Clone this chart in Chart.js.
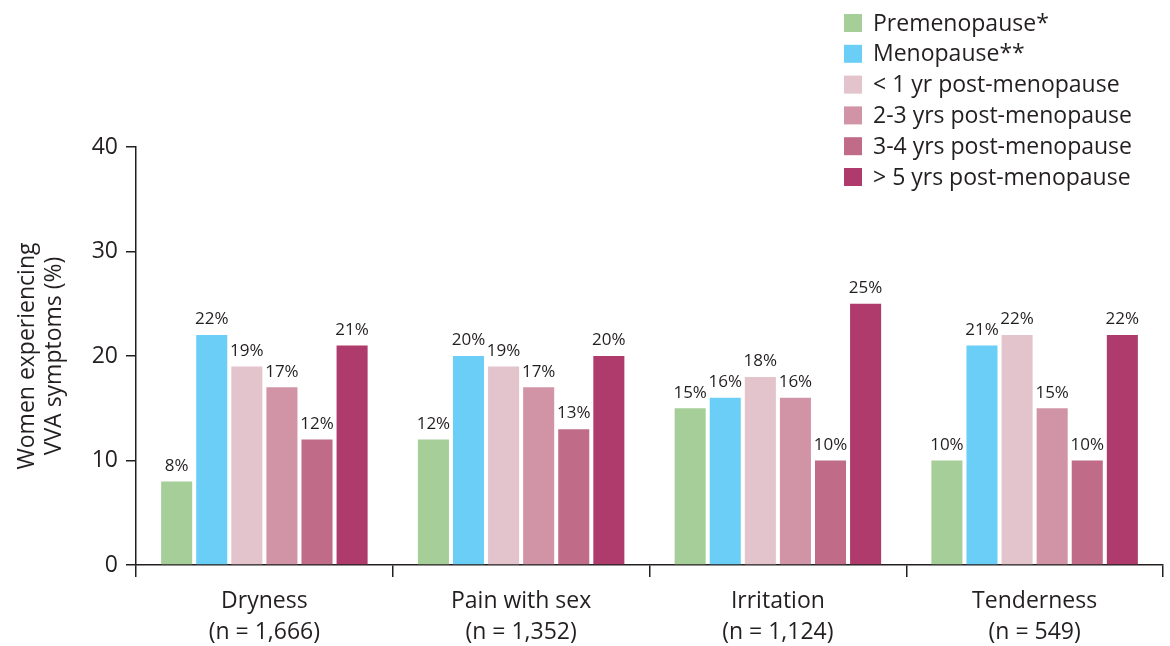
<!DOCTYPE html>
<html>
<head>
<meta charset="utf-8">
<script src="https://cdn.jsdelivr.net/npm/chart.js@4.4.1/dist/chart.umd.min.js"></script>
<style>
  html, body { margin: 0; padding: 0; background: #fff; }
  #wrap { width: 1170px; height: 646px; position: relative; }
</style>
</head>
<body>
<div id="wrap"><canvas id="vvaChart" width="1170" height="646"></canvas></div>
<script>
// VVA symptoms by menopausal stage

const categories = [
  ['Dryness', '(n = 1,666)'],
  ['Pain with sex', '(n = 1,352)'],
  ['Irritation', '(n = 1,124)'],
  ['Tenderness', '(n = 549)']
];

const stageLabels = [
  'Premenopause*',
  'Menopause**',
  '< 1 yr post-menopause',
  '2-3 yrs post-menopause',
  '3-4 yrs post-menopause',
  '> 5 yrs post-menopause'
];

const premenopause = [8, 12, 15, 10];
const menopause = [22, 20, 16, 21];
const postUnder1 = [19, 19, 18, 22];
const post2to3 = [17, 17, 16, 15];
const post3to4 = [12, 13, 10, 10];
const postOver5 = [21, 20, 25, 22];

const stageValues = [premenopause, menopause, postUnder1, post2to3, post3to4, postOver5];
const stageColors = ['#a5ce98', '#6acef6', '#e3c4cc', '#d094a6', '#c06c88', '#ae3b6b'];

const yTicks = [0, 10, 20, 30, 40];

const FONT = '"Open Sans", sans-serif';
const INK = '#231f20';

// value labels above each bar
const barLabels = {
  id: 'barLabels',
  afterDatasetsDraw(chart) {
    const ctx = chart.ctx;
    ctx.save();
    ctx.font = '17px ' + FONT;
    ctx.fillStyle = INK;
    ctx.textAlign = 'center';
    ctx.textBaseline = 'bottom';
    chart.data.datasets.forEach((ds, i) => {
      chart.getDatasetMeta(i).data.forEach((bar, j) => {
        ctx.fillText(ds.data[j] + '%', bar.x, bar.y - 7);
      });
    });
    ctx.restore();
  }
};

// stacked legend in the top right corner
const cornerLegend = {
  id: 'cornerLegend',
  afterDraw(chart) {
    const ctx = chart.ctx;
    ctx.save();
    ctx.font = '23px ' + FONT;
    ctx.textBaseline = 'middle';
    ctx.textAlign = 'left';
    chart.data.datasets.forEach((ds, i) => {
      const y = 23 + i * 30.8;
      ctx.fillStyle = ds.backgroundColor;
      ctx.fillRect(844, y - 9, 18, 18);
      ctx.fillStyle = INK;
      ctx.fillText(ds.label, 873, y + 1);
    });
    ctx.restore();
  }
};

new Chart(document.getElementById('vvaChart'), {
  type: 'bar',
  data: {
    labels: categories,
    datasets: stageLabels.map((label, i) => ({
      label: label,
      data: stageValues[i],
      backgroundColor: stageColors[i],
      categoryPercentage: 0.82,
      barPercentage: 0.885
    }))
  },
  options: {
    responsive: false,
    animation: false,
    layout: { padding: { top: 147, right: 7, left: 14, bottom: 0 } },
    plugins: {
      legend: { display: false },
      tooltip: { enabled: false }
    },
    scales: {
      x: {
        offset: true,
        grid: {
          offset: true,
          drawOnChartArea: false,
          tickLength: 12,
          color: INK,
          lineWidth: 1.5
        },
        border: { display: true, color: INK, width: 1.5 },
        ticks: {
          font: { family: FONT, size: 23, lineHeight: 1.35 },
          color: INK,
          padding: 9,
          maxRotation: 0
        },
        afterFit(scale) { scale.height = 81; }
      },
      y: {
        min: 0,
        max: 40,
        afterBuildTicks(scale) { scale.ticks = yTicks.map(v => ({ value: v })); },
        grid: {
          drawOnChartArea: false,
          tickLength: 10,
          color: INK,
          lineWidth: 1.5
        },
        border: { display: true, color: INK, width: 1.5 },
        ticks: {
          font: { family: FONT, size: 23 },
          color: INK,
          padding: 8
        },
        title: {
          display: true,
          text: ['Women experiencing', 'VVA symptoms (%)'],
          font: { family: FONT, size: 23, lineHeight: 1.18 },
          color: INK,
          padding: { top: 0, bottom: 0 }
        },
        afterFit(scale) { scale.width = 122; }
      }
    }
  },
  plugins: [barLabels, cornerLegend]
});
</script>
</body>
</html>
